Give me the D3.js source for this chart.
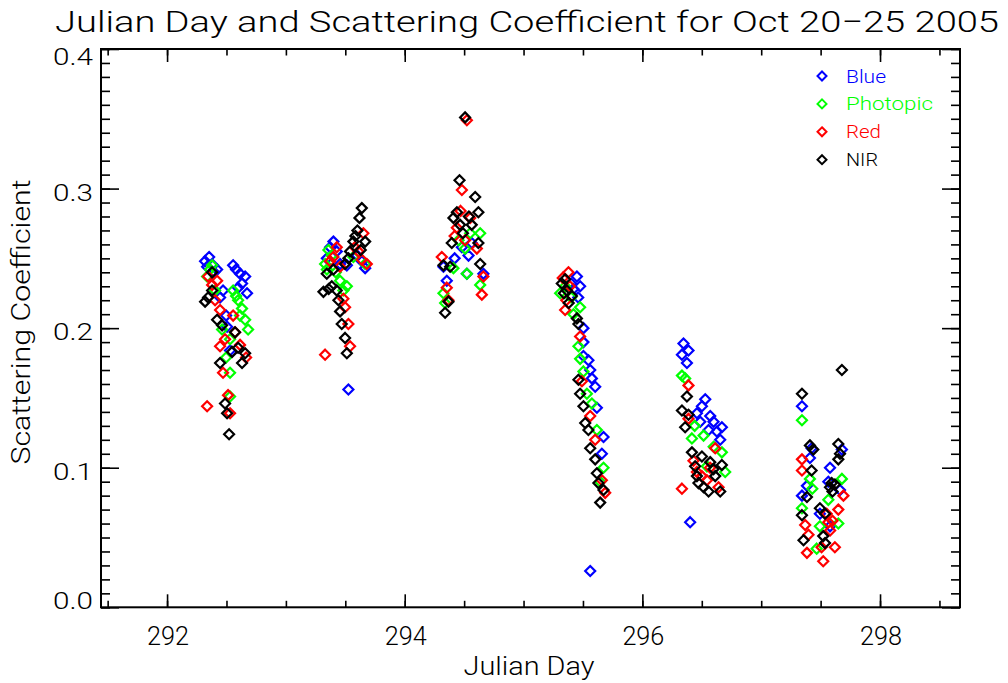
<!DOCTYPE html>
<html>
<head>
<meta charset="utf-8">
<script src="https://cdn.jsdelivr.net/npm/d3@7"></script>
<style>
body { margin: 0; background: #fff; }
text { font-family: Roboto, "DejaVu Sans", sans-serif; font-weight: 300; }
</style>
</head>
<body>
<svg id="chart" width="1008" height="683"></svg>
<script>
// [julian day, scattering coefficient]
var blueData = [
  [292.354,0.251],[292.320,0.248],[292.337,0.244],[292.387,0.245],[292.421,0.242],[292.396,0.240],
  [292.556,0.245],[292.581,0.242],[292.614,0.239],[292.657,0.237],[292.631,0.232],[292.673,0.225],
  [292.598,0.229],[292.471,0.227],[292.446,0.222],[292.497,0.209],[292.505,0.201],[292.530,0.184],
  [293.400,0.262],[293.667,0.243],[293.526,0.156],[293.456,0.246],[293.372,0.258],[293.639,0.248],
  [293.428,0.255],[293.513,0.245],[293.345,0.250],[293.600,0.252],
  [294.481,0.258],[294.537,0.252],[294.354,0.234],[294.523,0.239],[294.662,0.239],[294.564,0.261],
  [294.326,0.244],[294.420,0.250],
  [295.449,0.237],[295.476,0.230],[295.400,0.232],[295.420,0.228],[295.460,0.222],[295.504,0.200],
  [295.504,0.190],[295.504,0.180],[295.546,0.177],[295.561,0.170],[295.575,0.164],[295.603,0.158],
  [295.617,0.143],[295.673,0.122],[295.659,0.110],[295.561,0.026],
  [296.346,0.189],[296.388,0.184],[296.333,0.181],[296.375,0.175],[296.529,0.149],[296.501,0.144],
  [296.459,0.139],[296.571,0.137],[296.599,0.133],[296.669,0.129],[296.627,0.126],[296.557,0.127],
  [296.655,0.120],[296.487,0.133],[296.402,0.061],
  [297.343,0.144],[297.424,0.114],[297.410,0.107],[297.579,0.100],[297.565,0.090],[297.343,0.080],
  [297.663,0.084],[297.679,0.113],[297.494,0.067],[297.579,0.058],[297.385,0.087]
];
var photopicData = [
  [292.379,0.245],[292.337,0.237],[292.362,0.242],[292.556,0.227],[292.581,0.223],[292.598,0.220],
  [292.631,0.214],[292.657,0.206],[292.682,0.199],[292.530,0.192],[292.497,0.179],[292.530,0.168],
  [292.530,0.151],[292.404,0.227],[292.463,0.199],[292.614,0.209],
  [293.358,0.256],[293.330,0.246],[293.484,0.227],[293.513,0.230],[293.456,0.234],[293.386,0.252],
  [293.667,0.246],[293.568,0.251],[293.420,0.240],[293.345,0.242],
  [294.453,0.263],[294.508,0.257],[294.410,0.243],[294.523,0.239],[294.635,0.231],[294.326,0.225],
  [294.340,0.218],[294.551,0.268],[294.635,0.268],
  [295.308,0.225],[295.350,0.230],[295.400,0.222],[295.420,0.210],[295.476,0.215],[295.462,0.187],
  [295.476,0.178],[295.504,0.169],[295.533,0.153],[295.575,0.146],[295.617,0.127],[295.673,0.100],
  [295.645,0.090],
  [296.333,0.166],[296.360,0.164],[296.417,0.121],[296.515,0.123],[296.669,0.111],[296.543,0.101],
  [296.697,0.097],[296.440,0.130],[296.600,0.115],
  [297.343,0.134],[297.410,0.092],[297.679,0.092],[297.343,0.071],[297.494,0.058],[297.649,0.060],
  [297.565,0.077],[297.467,0.042],[297.430,0.085]
];
var redData = [
  [292.345,0.237],[292.421,0.234],[292.379,0.231],[292.446,0.213],[292.556,0.209],[292.572,0.197],
  [292.446,0.187],[292.471,0.168],[292.337,0.144],[292.513,0.152],[292.530,0.139],[292.665,0.179],
  [292.614,0.188],[292.404,0.220],[292.488,0.192],
  [293.652,0.268],[293.639,0.249],[293.681,0.246],[293.400,0.251],[293.456,0.244],[293.330,0.181],
  [293.540,0.187],[293.498,0.215],[293.526,0.203],[293.484,0.221],[293.428,0.258],[293.610,0.255],
  [293.372,0.248],[293.580,0.258],
  [294.523,0.349],[294.481,0.299],[294.551,0.279],[294.439,0.272],[294.607,0.257],[294.312,0.251],
  [294.354,0.229],[294.649,0.224],[294.662,0.237],[294.508,0.263],[294.368,0.220],[294.470,0.284],
  [294.420,0.266],
  [295.378,0.240],[295.330,0.236],[295.390,0.230],[295.360,0.220],[295.350,0.213],[295.476,0.194],
  [295.491,0.162],[295.561,0.137],[295.603,0.120],[295.659,0.091],[295.687,0.082],
  [296.388,0.159],[296.388,0.135],[296.333,0.085],[296.613,0.114],[296.459,0.097],[296.543,0.091],
  [296.641,0.086],[296.500,0.094],[296.570,0.100],[296.430,0.105],
  [297.343,0.106],[297.343,0.098],[297.692,0.080],[297.649,0.070],[297.370,0.059],[297.385,0.039],
  [297.508,0.043],[297.522,0.033],[297.620,0.043],[297.565,0.061],[297.398,0.052],[297.551,0.067],
  [297.580,0.055],[297.600,0.062]
];
var nirData = [
  [292.379,0.240],[292.379,0.227],[292.320,0.219],[292.345,0.222],[292.421,0.206],[292.463,0.202],
  [292.572,0.197],[292.657,0.182],[292.631,0.175],[292.446,0.175],[292.598,0.186],[292.488,0.146],
  [292.505,0.139],[292.522,0.124],[292.547,0.183],
  [293.639,0.286],[293.619,0.279],[293.602,0.270],[293.667,0.262],[293.568,0.262],[293.540,0.255],
  [293.526,0.250],[293.498,0.246],[293.344,0.239],[293.316,0.226],[293.386,0.230],[293.428,0.227],
  [293.442,0.220],[293.456,0.212],[293.470,0.203],[293.498,0.193],[293.513,0.182],[293.400,0.242],
  [293.585,0.266],[293.630,0.256],[293.360,0.228],
  [294.508,0.351],[294.461,0.306],[294.593,0.294],[294.620,0.283],[294.439,0.283],[294.410,0.279],
  [294.466,0.274],[294.564,0.274],[294.396,0.261],[294.635,0.246],[294.326,0.245],[294.382,0.244],
  [294.340,0.211],[294.368,0.219],[294.620,0.261],[294.540,0.280],[294.490,0.268],
  [295.322,0.232],[295.340,0.225],[295.380,0.218],[295.350,0.235],[295.407,0.223],[295.365,0.227],
  [295.449,0.207],[295.462,0.203],[295.462,0.163],[295.476,0.153],[295.504,0.144],[295.519,0.132],
  [295.546,0.127],[295.561,0.114],[295.603,0.106],[295.617,0.096],[295.630,0.089],[295.673,0.084],
  [295.645,0.075],
  [296.375,0.151],[296.333,0.141],[296.388,0.138],[296.360,0.129],[296.417,0.111],[296.501,0.108],
  [296.444,0.101],[296.571,0.104],[296.669,0.102],[296.459,0.094],[296.613,0.094],[296.472,0.089],
  [296.557,0.083],[296.655,0.083],[296.515,0.086],[296.599,0.099],
  [297.343,0.153],[297.410,0.116],[297.438,0.113],[297.424,0.098],[297.649,0.117],[297.649,0.106],
  [297.579,0.086],[297.593,0.089],[297.385,0.079],[297.343,0.066],[297.494,0.071],[297.537,0.067],
  [297.356,0.048],[297.522,0.051],[297.537,0.046],[297.679,0.170],[297.600,0.083],[297.620,0.088],
  [297.663,0.110]
];

var seriesNames = ["Blue", "Photopic", "Red", "NIR"];
var seriesColors = ["#0000ff", "#00ff00", "#ff0000", "#000000"];
var xTicks = [292, 294, 296, 298];
var yTicks = [0.0, 0.1, 0.2, 0.3, 0.4];

var margin = { top: 49, left: 101 },
    width = 960 - 101,
    height = 607.3 - 49;

var svg = d3.select("#chart");
var g = svg.append("g").attr("transform", "translate(" + margin.left + "," + margin.top + ")");

var x = d3.scaleLinear().domain([291.444, 298.673]).range([0, width]);
var y = d3.scaleLinear().domain([0, 0.4]).range([height, 0]);

var xMinor = d3.range(291.5, 298.6, 0.5);
var yMinor = d3.range(0, 0.4001, 0.01);

function axisStyle(sel) {
  sel.select(".domain").remove();
  sel.selectAll("line").attr("stroke", "#000").attr("stroke-width", 1.6);
  sel.selectAll("text").remove();
}

// ticks on all four sides, pointing inward
g.append("g").attr("transform", "translate(0," + height + ")")
  .call(d3.axisBottom(x).tickValues(xMinor).tickSize(-6.5)).call(axisStyle);
g.append("g").attr("transform", "translate(0," + height + ")")
  .call(d3.axisBottom(x).tickValues(xTicks).tickSize(-13)).call(axisStyle);
g.append("g")
  .call(d3.axisTop(x).tickValues(xMinor).tickSize(-6.5)).call(axisStyle);
g.append("g")
  .call(d3.axisTop(x).tickValues(xTicks).tickSize(-13)).call(axisStyle);
g.append("g")
  .call(d3.axisLeft(y).tickValues(yMinor).tickSize(-9)).call(axisStyle);
g.append("g")
  .call(d3.axisLeft(y).tickValues(yTicks).tickSize(-18)).call(axisStyle);
g.append("g").attr("transform", "translate(" + width + ",0)")
  .call(d3.axisRight(y).tickValues(yMinor).tickSize(-9)).call(axisStyle);
g.append("g").attr("transform", "translate(" + width + ",0)")
  .call(d3.axisRight(y).tickValues(yTicks).tickSize(-18)).call(axisStyle);

g.append("rect")
  .attr("width", width).attr("height", height)
  .attr("fill", "none").attr("stroke", "#000").attr("stroke-width", 2);

// tick labels
g.selectAll(".xlab").data(xTicks).enter().append("text")
  .attr("class", "xlab")
  .attr("x", function(d) { return x(d) + 1; })
  .attr("y", height + 38)
  .attr("text-anchor", "middle")
  .attr("font-size", 25)
  .attr("textLength", 42).attr("lengthAdjust", "spacingAndGlyphs")
  .text(function(d) { return d; });

// end labels sit a little inside the axis range
var yLabShift = { "0.0": 1.5, "0.4": 15.5 };
g.selectAll(".ylab").data(yTicks).enter().append("text")
  .attr("class", "ylab")
  .attr("x", -8)
  .attr("y", function(d) {
    var k = d.toFixed(1);
    return y(d) + (k in yLabShift ? yLabShift[k] : 12);
  })
  .attr("text-anchor", "end")
  .attr("font-size", 23)
  .attr("textLength", 40).attr("lengthAdjust", "spacingAndGlyphs")
  .text(function(d) { return d.toFixed(1); });

// titles
svg.append("text")
  .attr("x", 55).attr("y", 32)
  .attr("font-size", 30)
  .attr("textLength", 944).attr("lengthAdjust", "spacingAndGlyphs")
  .text("Julian Day and Scattering Coefficient for Oct 20\u221225 2005");

svg.append("text")
  .attr("x", 529).attr("y", 675)
  .attr("text-anchor", "middle")
  .attr("font-size", 25)
  .attr("textLength", 131).attr("lengthAdjust", "spacingAndGlyphs")
  .text("Julian Day");

svg.append("text")
  .attr("transform", "translate(30,322) rotate(-90)")
  .attr("text-anchor", "middle")
  .attr("font-size", 25)
  .attr("textLength", 285).attr("lengthAdjust", "spacingAndGlyphs")
  .text("Scattering Coefficient");

// points: blue first, black on top
var diamond = function(r) { return "M0," + (-r) + "L" + r + ",0L0," + r + "L" + (-r) + ",0Z"; };
var allSeries = [blueData, photopicData, redData, nirData];

allSeries.forEach(function(data, i) {
  g.append("g").selectAll("path").data(data).enter().append("path")
    .attr("d", diamond(5))
    .attr("transform", function(d) { return "translate(" + x(d[0]) + "," + y(d[1]) + ")"; })
    .attr("fill", "none")
    .attr("stroke", seriesColors[i])
    .attr("stroke-width", 2.2);
});

// legend
var legendW = [40, 87, 35, 32];
var legend = svg.append("g").attr("transform", "translate(822,76)");
seriesNames.forEach(function(name, i) {
  var row = legend.append("g").attr("transform", "translate(0," + (i * 27.9) + ")");
  row.append("path").attr("d", diamond(4.5)).attr("fill", "none")
    .attr("stroke", seriesColors[i]).attr("stroke-width", 2);
  row.append("text").attr("x", 24).attr("y", 6.5)
    .attr("font-size", 18).attr("fill", seriesColors[i])
    .attr("textLength", legendW[i]).attr("lengthAdjust", "spacingAndGlyphs")
    .text(name);
});
</script>
</body>
</html>
